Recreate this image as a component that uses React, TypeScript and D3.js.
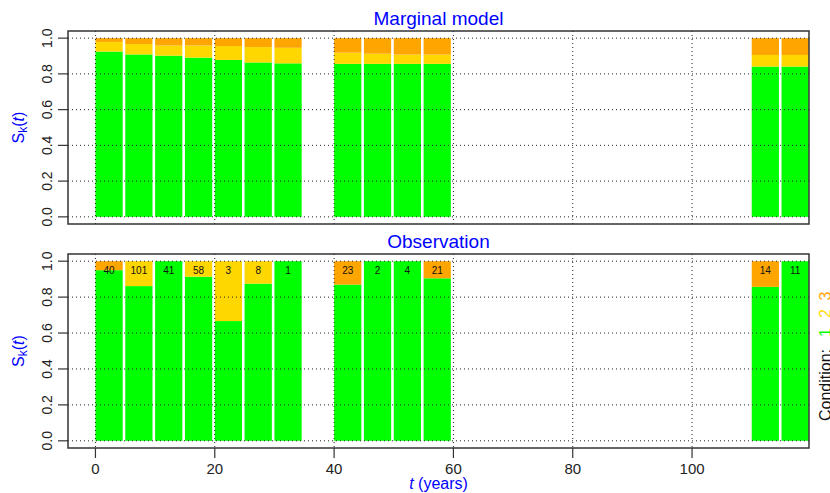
import React from "react";
import * as d3 from "d3";

// ---- data ----
const times = [0, 5, 10, 15, 20, 25, 30, 40, 45, 50, 55, 110, 115];
// Marginal model: probability of condition 1 and 2 (condition 3 = remainder)
const modelP1 = [0.925, 0.909, 0.902, 0.891, 0.878, 0.864, 0.859, 0.856, 0.856, 0.856, 0.856, 0.841, 0.841];
const modelP2 = [0.054, 0.058, 0.057, 0.068, 0.078, 0.086, 0.087, 0.063, 0.057, 0.052, 0.052, 0.065, 0.065];
// Observation: counts
const obsN = [40, 101, 41, 58, 3, 8, 1, 23, 2, 4, 21, 14, 11];
const obsC2 = [0, 14, 0, 5, 1, 1, 0, 0, 0, 0, 0, 0, 0];
const obsC3 = [2, 0, 0, 0, 0, 0, 0, 3, 0, 0, 2, 2, 0];
const xTicks = [0, 20, 40, 60, 80, 100];
const yTicks = [0, 0.2, 0.4, 0.6, 0.8, 1.0];
const condLabels = ["1", "2", "3"];
const condColors = ["#00FF00", "#FFD700", "#FFA500"];

const FONT = "Liberation Sans, Arial, sans-serif";
const BLUE = "#0000FF";

const xScale = d3.scaleLinear().domain([-4.6, 119.6]).range([68, 809]);

type Panel = { top: number; bottom: number; title: string; titleY: number };

function PanelView({ panel, stacks, labels, id }: { panel: Panel; stacks: number[][]; labels?: number[]; id: string }) {
  const y = d3.scaleLinear().domain([-0.04, 1.04]).range([panel.bottom, panel.top]);
  const [x0, x1] = xScale.range();
  const midY = (y(0) + y(1)) / 2;
  return (
    <g>
      <defs>
        <clipPath id={id}>
          <rect x={x0} y={panel.top} width={x1 - x0} height={panel.bottom - panel.top} />
        </clipPath>
      </defs>
      <g clipPath={`url(#${id})`}>
        {times.map((t, i) => {
          const p = stacks[i];
          let cum = 0;
          const xa = xScale(t);
          const xb = xScale(t + 5) - 2.6;
          return (
            <g key={t}>
              {p.map((v, k) => {
                const lo = cum;
                cum += v;
                if (v <= 0) return null;
                return (
                  <rect key={k} x={xa} width={xb - xa} y={y(cum)} height={y(lo) - y(cum)} fill={condColors[k]} />
                );
              })}
              {labels && (
                <text x={(xa + xb) / 2} y={y(1) + 13} textAnchor="middle" fontSize={10} fontFamily={FONT} fill="#111">
                  {labels[i]}
                </text>
              )}
            </g>
          );
        })}
        {yTicks.map((v) => (
          <line key={"h" + v} x1={x0} x2={x1} y1={y(v)} y2={y(v)} stroke="#222" strokeWidth={1} strokeDasharray="1,3" />
        ))}
        {xTicks.map((v) => (
          <line key={"v" + v} x1={xScale(v)} x2={xScale(v)} y1={panel.top} y2={panel.bottom} stroke="#222" strokeWidth={1} strokeDasharray="1,3" />
        ))}
      </g>
      <rect x={x0} y={panel.top} width={x1 - x0} height={panel.bottom - panel.top} fill="none" stroke="#333" strokeWidth={1.5} />
      {yTicks.map((v) => (
        <g key={"t" + v}>
          <line x1={x0 - 10} x2={x0} y1={y(v)} y2={y(v)} stroke="#333" strokeWidth={1.2} />
          <text transform={`translate(52,${y(v)}) rotate(-90)`} textAnchor="middle" fontSize={14} fontFamily={FONT} fill="#222">
            {v.toFixed(1)}
          </text>
        </g>
      ))}
      <text transform={`translate(24,${midY}) rotate(-90)`} textAnchor="middle" fontSize={16} fontFamily={FONT} fill={BLUE}>
        <tspan>S</tspan>
        <tspan fontSize={12} dy={3}>k</tspan>
        <tspan dy={-3}>(</tspan>
        <tspan fontStyle="italic">t</tspan>
        <tspan>)</tspan>
      </text>
      <text x={(x0 + x1) / 2} y={panel.titleY} textAnchor="middle" fontSize={19} fontFamily={FONT} fill={BLUE}>
        {panel.title}
      </text>
    </g>
  );
}

export default function App() {
  const modelStacks = times.map((_, i) => [modelP1[i], modelP2[i], 1 - modelP1[i] - modelP2[i]]);
  const obsStacks = times.map((_, i) => {
    const c1 = obsN[i] - obsC2[i] - obsC3[i];
    return [c1 / obsN[i], obsC2[i] / obsN[i], obsC3[i] / obsN[i]];
  });
  const top: Panel = { top: 31, bottom: 224, title: "Marginal model", titleY: 25 };
  const bot: Panel = { top: 254, bottom: 448, title: "Observation", titleY: 248 };
  const legendDigitY = [332.5, 313.5, 296];
  return (
    <svg width={830} height={493} style={{ position: "absolute", left: 0, top: 0, background: "#fff" }}>
      <rect width={830} height={493} fill="#fff" />
      <PanelView panel={top} stacks={modelStacks} id="clipTop" />
      <PanelView panel={bot} stacks={obsStacks} labels={obsN} id="clipBot" />
      {xTicks.map((v) => (
        <g key={v}>
          <line x1={xScale(v)} x2={xScale(v)} y1={448} y2={458} stroke="#333" strokeWidth={1.2} />
          <text x={xScale(v)} y={474} textAnchor="middle" fontSize={15} fontFamily={FONT} fill="#222">
            {v}
          </text>
        </g>
      ))}
      <text x={(xScale.range()[0] + xScale.range()[1]) / 2} y={489} textAnchor="middle" fontSize={16} fontFamily={FONT} fill={BLUE}>
        <tspan fontStyle="italic">t</tspan>
        <tspan> (years)</tspan>
      </text>
      <text transform="translate(831,421) rotate(-90)" textAnchor="start" fontSize={16} fontFamily={FONT} fill="#111">
        Condition:
      </text>
      {condLabels.map((c, i) => (
        <text key={c} transform={`translate(831,${legendDigitY[i]}) rotate(-90)`} textAnchor="middle" fontSize={16} fontFamily={FONT} fill={condColors[i]}>
          {c}
        </text>
      ))}
    </svg>
  );
}
